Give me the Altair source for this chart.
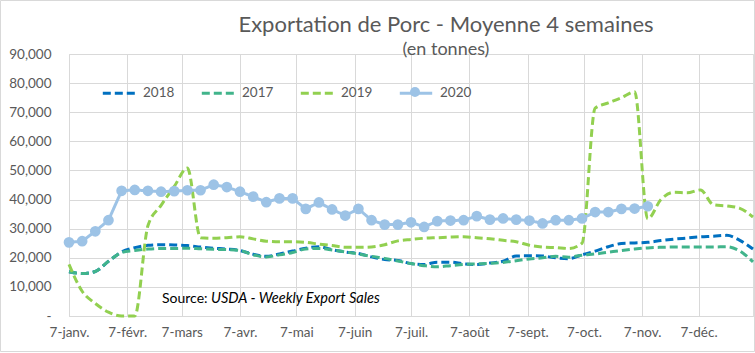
import json
import pandas as pd
import altair as alt

# ---------------- data ----------------
start = "2020-01-07"
weeks_full = 53          # 2017, 2018, 2019 series
weeks_2020 = 45

v2018 = [15200, 14600, 15300, 18800, 22000, 23500, 24300, 24500, 24400, 24200,
         23700, 23300, 23000, 22500, 21200, 20500, 21300, 22300, 23300, 23800,
         22800, 22000, 21500, 20300, 19400, 19100, 18000, 17700, 18500, 18500,
         17900, 17700, 18200, 18800, 20600, 20700, 20600, 20000, 19700, 21000,
         22300, 23800, 24900, 25100, 25300, 25900, 26400, 26800, 27200, 27400,
         27700, 26000, 23000]
v2017 = [15200, 14600, 15300, 18800, 21800, 22500, 23000, 23200, 23200, 23300,
         23100, 22900, 22800, 22500, 21000, 20300, 21000, 21800, 23000, 23200,
         22700, 22000, 21300, 20500, 19800, 18900, 18000, 17300, 16900, 17300,
         17700, 17900, 18100, 18400, 19000, 19600, 20000, 20500, 20200, 20900,
         21300, 21900, 22500, 23000, 23400, 23600, 23700, 23700, 23700, 23700,
         23800, 22300, 18600]
v2019 = [17700, 8500, 4300, 1300, 0, 0, 31000, 38000, 44500, 50800,
         26900, 26700, 26900, 27200, 26500, 25700, 25500, 25500, 25300, 24700,
         24200, 23600, 23600, 23700, 24500, 25800, 26300, 26700, 26900, 27100,
         27200, 26900, 26500, 26000, 25500, 24300, 23700, 23500, 23200, 25000,
         71400, 73200, 75000, 77000, 33400, 40000, 42500, 42300, 43300, 38200,
         37800, 37000, 34000]
v2020 = [25300, 25700, 29100, 32900, 43000, 43300, 43000, 42700, 42900, 43200,
         43200, 45100, 44300, 42700, 41000, 39100, 40400, 40400, 36800, 39000,
         36600, 34500, 36800, 32900, 31400, 31400, 32200, 30600, 32600, 32800,
         32900, 34300, 33100, 33500, 33100, 32800, 31800, 32900, 32900, 33500,
         35700, 35700, 36800, 36900, 37700]

legend_order = ["2018", "2017", "2019", "2020"]
series_colors = ["#0070C0", "#41B48B", "#92D050", "#9DC3E6"]
series_dashes = [[8, 4], [8, 4], [8, 4], [1, 0]]
color_2020 = "#9DC3E6"

month_labels = ["janv.", "févr.", "mars", "avr.", "mai", "juin",
                "juil.", "août", "sept.", "oct.", "nov.", "déc."]
y_ticks = [0, 10000, 20000, 30000, 40000, 50000, 60000, 70000, 80000, 90000]

title_text = "Exportation de Porc - Moyenne 4 semaines"
subtitle_text = "(en tonnes)"
source_plain = "Source:"
source_italic = "USDA - Weekly Export Sales"

# ---------------- tables ----------------
dates_full = pd.date_range(start, periods=weeks_full, freq="7D").strftime("%Y-%m-%d")
dates_2020 = pd.date_range(start, periods=weeks_2020, freq="7D").strftime("%Y-%m-%d")

rows = []
for year, vals in (("2018", v2018), ("2017", v2017), ("2019", v2019)):
    for d, v in zip(dates_full, vals):
        rows.append({"date": d, "value": v, "year": year})
df_old = pd.DataFrame(rows)
df_2020 = pd.DataFrame({"date": list(dates_2020), "value": v2020, "year": "2020"})

FONT = "Lato"
GREY = "#595959"
GRID = "#D9D9D9"

x_enc = alt.X(
    "date:T",
    scale=alt.Scale(
        type="utc",
        domain=[alt.DateTime(year=2020, month=1, date=7, utc=True),
                alt.DateTime(year=2021, month=1, date=5, utc=True)],
    ),
    axis=alt.Axis(
        title=None,
        values=[alt.DateTime(year=2020, month=m, date=7, utc=True) for m in range(1, 13)],
        labelExpr="'7-' + " + json.dumps(month_labels, ensure_ascii=False) + "[utcmonth(datum.value)]",
        ticks=False,
        domain=True,
        domainColor=GRID,
        domainWidth=1,
        grid=True,
        gridColor=GRID,
        labelPadding=9,
        labelFontSize=13.5,
        labelColor=GREY,
        labelFont=FONT,
        labelFlush=False,
        labelOverlap=False,
    ),
)
y_enc = alt.Y(
    "value:Q",
    scale=alt.Scale(domain=[0, 90000], nice=False),
    axis=alt.Axis(
        title=None,
        values=y_ticks,
        labelExpr="datum.value == 0 ? '-\u00a0\u00a0' : format(datum.value, ',')",
        ticks=False,
        domain=False,
        grid=True,
        gridColor=GRID,
        labelPadding=18,
        labelFontSize=13.5,
        labelColor=GREY,
        labelFont=FONT,
    ),
)

main_legend = alt.Legend(
    title=None, orient="none", direction="horizontal",
    legendX=32, legendY=21,
    symbolType="stroke", symbolSize=1050, symbolStrokeWidth=3,
    labelFontSize=13.5, labelColor=GREY, labelFont=FONT,
    labelOffset=6, columnPadding=20,
)
color_enc = alt.Color(
    "year:N",
    sort=legend_order,
    scale=alt.Scale(domain=legend_order, range=series_colors),
    legend=main_legend,
)
dash_enc = alt.StrokeDash(
    "year:N",
    sort=legend_order,
    scale=alt.Scale(domain=legend_order, range=series_dashes),
    legend=main_legend,
)

old_lines = alt.Chart(df_old).mark_line(strokeWidth=3, interpolate="monotone").encode(
    x=x_enc, y=y_enc, color=color_enc, strokeDash=dash_enc,
)

line_2020 = alt.Chart(df_2020).mark_line(strokeWidth=3).encode(
    x=x_enc, y=y_enc, color=color_enc, strokeDash=dash_enc,
)

points_2020 = alt.Chart(df_2020).mark_circle(size=115, color=color_2020).encode(
    x=x_enc,
    y=y_enc,
    opacity=alt.Opacity(
        "year:N",
        scale=alt.Scale(domain=["2020"], range=[1]),
        legend=alt.Legend(
            title=None, orient="none",
            legendX=341, legendY=33,
            labelExpr="''", labelOffset=0,
            symbolType="circle", symbolSize=100,
            symbolFillColor=color_2020, symbolStrokeColor=color_2020,
            symbolStrokeWidth=0, symbolOpacity=1,
        ),
    ),
)

src1 = alt.Chart(pd.DataFrame({"t": [source_plain]})).mark_text(
    align="left", baseline="middle", font=FONT, fontSize=14, color="#000000"
).encode(x=alt.value(93), y=alt.value(245), text="t:N")
src2 = alt.Chart(pd.DataFrame({"t": [source_italic]})).mark_text(
    align="left", baseline="middle", font=FONT, fontSize=14.5, fontStyle="italic", color="#000000"
).encode(x=alt.value(142), y=alt.value(245), text="t:N")

# light chart-area border, as in the spreadsheet export
frame = alt.Chart(pd.DataFrame({"k": [0]})).mark_rect(
    fill=None, stroke=GRID, strokeWidth=1
).encode(x=alt.value(-68.5), x2=alt.value(685.5), y=alt.value(-53.5), y2=alt.value(297.5))

chart = alt.layer(frame, old_lines, line_2020, points_2020, src1, src2).properties(
    width=684,
    height=262,
    padding={"left": 69, "top": 54, "right": 2, "bottom": 37},
    autosize=alt.AutoSizeParams(type="none"),
    title=alt.TitleParams(
        text=title_text,
        subtitle=subtitle_text,
        anchor="middle",
        dx=35,
        offset=-60,
        font=FONT,
        fontSize=22,
        fontWeight="normal",
        color=GREY,
        subtitleFont=FONT,
        subtitleFontSize=18,
        subtitleColor=GREY,
        subtitlePadding=4,
    ),
).resolve_legend(color="shared").configure_view(stroke=None).configure(background="white")

chart.save("out.html", embed_options={"renderer": "svg", "actions": False})
